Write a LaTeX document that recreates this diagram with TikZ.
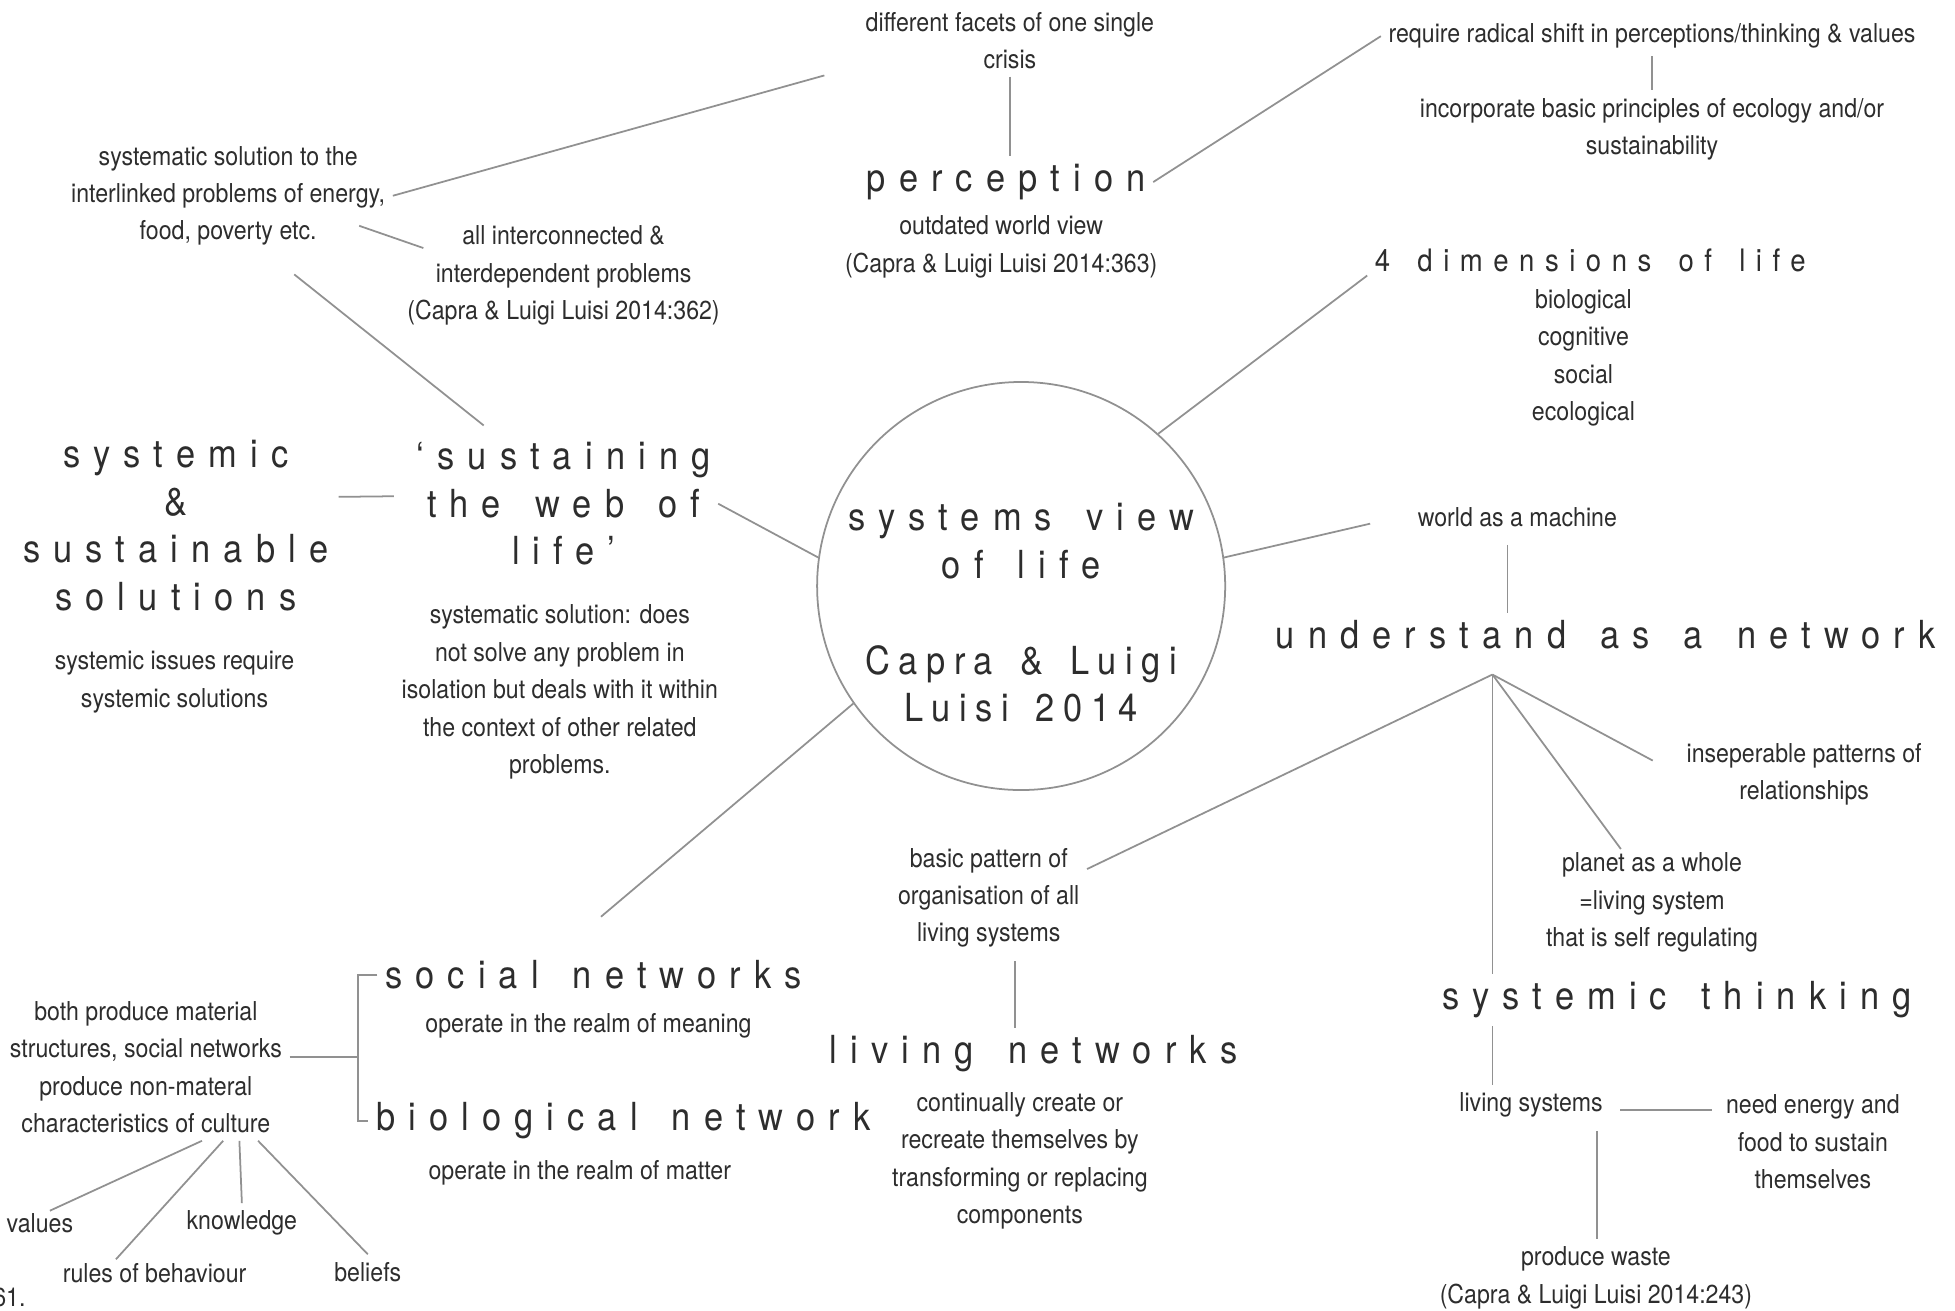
\documentclass[tikz,border=0pt]{standalone}
\usepackage{fontspec}
\usetikzlibrary{calc}
\newfontfamily\bodyfont{TeX Gyre Heros}[FakeStretch=0.89]
\newfontfamily\titlefont{TeX Gyre Heros}[FakeStretch=0.89, LetterSpace=34, WordSpace=1.5]
\newcommand{\tightsp}[1]{{\addfontfeature{LetterSpace=22}#1}}
\definecolor{ink}{RGB}{45,45,45}
\definecolor{linegray}{RGB}{145,145,145}
\begin{document}
\begin{tikzpicture}[
  x={(0.012468cm,0)}, y={(0,-0.012468cm)},
  body/.style={font=\bodyfont\fontsize{7.4pt}{10.64pt}\selectfont, align=center, text=ink, inner sep=2pt},
  title/.style={font=\titlefont\fontsize{11pt}{13.6pt}\selectfont, align=center, text=ink, inner sep=2pt},
  dimtitle/.style={title, font=\titlefont\fontsize{8.8pt}{11pt}\selectfont},
  hub/.style={circle, draw=linegray, line width=0.5pt, minimum size=4.08cm, inner sep=0pt},
  link/.style={draw=linegray, line width=0.5pt}
]
\useasboundingbox (0,0) rectangle (1568,1051);

\node[body] (facets) at (810,32.5) {different facets of one single\\crisis};
\node[title] (perception) at (807,146) {perception};
\node[body] (outdated) at (803,198) {outdated world view\\(Capra \& Luigi Luisi 2014:363)};
\node[body] (radical) at (1325,29) {require radical shift in perceptions/thinking \& values};
\node[body] (ecology) at (1325,103.5) {incorporate basic principles of ecology and/or\\sustainability};

\node[body] (interlinked) at (183,157) {systematic solution to the\\interlinked problems of energy,\\food, poverty etc.};
\node[body] (interdep) at (452,221) {all interconnected \&\\interdependent problems\\(Capra \& Luigi Luisi 2014:362)};
\node[title] (sustaining) at (452,404) {‘sustaining\\the web of\\life’};
\node[title] (systemic) at (141,421.5) {systemic\\\&\\sustainable\\solutions};
\node[body] (issues) at (140,547) {systemic issues require\\systemic solutions};
\node[body] (isolation) at (449,555) {systematic solution: does\\not solve any problem in\\isolation but deals with it within\\the context of other related\\problems.};

\node[hub] (hub) at (819,470) {};
\node[title] (hubtext) at (819,491.5) {systems view\\of life\\[13.6pt]\tightsp{Capra \& Luigi}\\\tightsp{Luisi 2014}};

\node[dimtitle] (dims) at (1275.5,209) {4 dimensions of life};
\node[body] (dimlist) at (1270,287) {biological\\cognitive\\social\\ecological};
\node[body] (machine) at (1217,415) {world as a machine};
\node[title] (understand) at (1288,509) {understand as a network};
\coordinate (fork) at (1197,541);
\node[body] (insep) at (1447,621) {inseperable patterns of\\relationships};
\node[body] (planet) at (1325,724) {planet as a whole\\=living system\\that is self regulating};
\node[body] (pattern) at (793,720) {basic pattern of\\organisation of all\\living systems};
\node[title] (living) at (829,845) {living networks};
\node[body] (creates) at (818,931) {continually create or\\recreate themselves by\\transforming or replacing\\components};

\node[title] (social) at (476,782) {social networks};
\node[body] (meaning) at (472,823) {operate in the realm of meaning};
\node[title] (bio) at (500,899) {biological network};
\node[body] (matter) at (465,941) {operate in the realm of matter};
\coordinate (spine) at (287,848);
\node[body] (culture) at (117,856) {both produce material\\structures, social networks\\produce non-materal\\characteristics of culture};
\node[body] (values) at (32,981) {values};
\node[body] (knowledge) at (194,981) {knowledge};
\node[body] (rules) at (124,1021) {rules of behaviour};
\node[body] (beliefs) at (295,1020) {beliefs};
\node[body, anchor=east, inner sep=0pt] (pagenum) at (21,1041) {61.};

\node[title] (systhink) at (1345,802) {systemic thinking};
\node[body] (livsys) at (1228,886) {living systems};
\node[body] (energy) at (1454,916) {need energy and\\food to sustain\\themselves};
\node[body] (waste) at (1280,1025) {produce waste\\(Capra \& Luigi Luisi 2014:243)};

\draw[link] (facets.south) -- (facets.south |- perception.north);
\draw[link] (interlinked.east) -- ($(facets.south west)+(-27,-1)$);
\draw[link] (perception.east) -- (radical.west);
\draw[link] (radical.south) -- (radical.south |- ecology.north);
\draw[link] ($(interlinked.south east)+(-27,-22)$) -- ($(interdep.north west)+(19,24)$);
\draw[link] ($(interlinked.south)+(53,17)$) -- ($(sustaining.north west)+(60,-7)$);
\draw[link] ($(systemic.east)+(2,-23)$) -- ($(sustaining.west)+(-12,-6)$);
\draw[link] (sustaining.east) -- (hub.172);
\draw[link] (hub.48) -- ($(dims.west)+(0,12)$);
\draw[link] (hub.8) -- ($(machine.west)+(-32,5)$);
\draw[link] ($(machine.south)+(-8,8)$) coordinate (m) -- (m |- understand.north);
\draw[link] (fork) -- ($(pattern.east)+(0,-23)$);
\draw[link] (fork) -- (fork |- systhink.north);
\draw[link] (fork) -- ($(planet.north)+(-25,3)$);
\draw[link] (fork) -- ($(insep.west)+(-21,-11)$);
\draw[link] ($(pattern.south)+(21,5)$) coordinate (p) -- (p |- living.north);
\draw[link] (hub.215) -- ($(social.north)+(6,-29)$);
\draw[link] (social.west) -| (spine) |- (bio.west);
\draw[link] (culture.east |- spine) -- (spine);
\draw[link] ($(culture.south)+(45,0)$) -- ($(values.north)+(8,4)$);
\draw[link] ($(culture.south)+(62,0)$) -- ($(rules.north)+(-31,3)$);
\draw[link] ($(culture.south)+(75,0)$) -- (knowledge.north);
\draw[link] ($(culture.south)+(90,0)$) -- (beliefs.north);
\draw[link] ($(livsys.north)+(-31,0)$) coordinate (l) -- (l |- systhink.south);
\draw[link] ($(livsys.east)+(8,4)$) coordinate (e) -- ($(e -| energy.west)+(-5,0)$);
\draw[link] ($(livsys.south)+(53,5)$) coordinate (w) -- (w |- waste.north);

\end{tikzpicture}
\end{document}
